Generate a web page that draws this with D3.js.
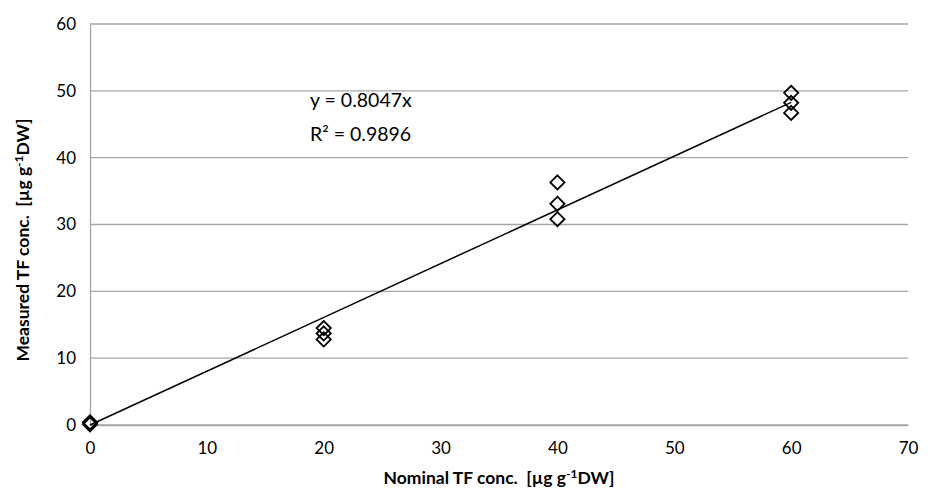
<!DOCTYPE html>
<html>
<head>
<meta charset="utf-8">
<script src="https://cdn.jsdelivr.net/npm/d3@7"></script>
<style>
  body { margin: 0; background: #fff; }
  svg text { font-family: Lato, "Liberation Sans", sans-serif; fill: #000; white-space: pre; }
</style>
</head>
<body>
<div id="chart"></div>
<script>
// Measured vs nominal TF concentration

const nominal = [0, 0, 0, 20, 20, 20, 40, 40, 40, 60, 60, 60];
const measured = [0.1, 0.3, 0.4, 12.8, 13.7, 14.5, 30.8, 33.1, 36.3, 46.7, 48.2, 49.7];
const slope = 0.8047;
const rSquared = 0.9896;
const xTicks = [0, 10, 20, 30, 40, 50, 60, 70];
const yTicks = [0, 10, 20, 30, 40, 50, 60];

const width = 930;
const height = 495;
const margin = { top: 24, right: 22, bottom: 70, left: 90 };
const innerWidth = width - margin.left - margin.right;
const innerHeight = height - margin.top - margin.bottom;

const svg = d3.select('#chart')
    .append('svg')
    .attr('width', width)
    .attr('height', height);

const g = svg.append('g')
    .attr('transform', `translate(${margin.left},${margin.top})`);

const xScale = d3.scaleLinear().domain([0, 70]).range([0, innerWidth]);
const yScale = d3.scaleLinear().domain([0, 60]).range([innerHeight, 0]);

// Horizontal grid lines
g.append('g')
    .selectAll('line')
    .data(yTicks)
    .join('line')
    .attr('x1', 0)
    .attr('x2', innerWidth)
    .attr('y1', d => yScale(d))
    .attr('y2', d => yScale(d))
    .attr('stroke', '#a6a6a6')
    .attr('stroke-width', 1.3);

// Axes
const xAxis = g.append('g')
    .attr('transform', `translate(0,${innerHeight})`)
    .call(d3.axisBottom(xScale).tickValues(xTicks).tickSize(0).tickPadding(17));

const yAxis = g.append('g')
    .call(d3.axisLeft(yScale).tickValues(yTicks).tickSize(0).tickPadding(14));

[xAxis, yAxis].forEach(ax => {
    ax.select('.domain').attr('stroke', '#a6a6a6').attr('stroke-width', 1.3);
    ax.selectAll('text').style('font-size', '17px');
});

// Trend line
g.append('line')
    .attr('x1', xScale(0))
    .attr('y1', yScale(0))
    .attr('x2', xScale(60))
    .attr('y2', yScale(slope * 60))
    .attr('stroke', '#000')
    .attr('stroke-width', 1.5);

// Diamond markers
const diamond = d3.symbol().type(d3.symbolDiamond2).size(128);
g.append('g')
    .selectAll('path')
    .data(nominal.map((x, i) => ({ x, y: measured[i] })))
    .join('path')
    .attr('d', diamond)
    .attr('transform', d => `translate(${xScale(d.x)},${yScale(d.y)})`)
    .attr('fill', 'none')
    .attr('stroke', '#000')
    .attr('stroke-width', 1.8);

// Equation label
const eq = svg.append('text')
    .attr('x', 310)
    .attr('y', 107)
    .style('font-size', '19.5px');
eq.append('tspan').text(`y = ${slope}x`);
eq.append('tspan').attr('x', 310).attr('dy', 34).text(`R² = ${rSquared}`);

// Axis titles
const xTitle = svg.append('text')
    .attr('x', 499)
    .attr('y', 484)
    .attr('text-anchor', 'middle')
    .style('font-size', '17.5px')
    .style('font-weight', 'bold');
xTitle.append('tspan').text('Nominal TF conc.  [µg g');
xTitle.append('tspan').attr('dy', -6).style('font-size', '12px').text('-1');
xTitle.append('tspan').attr('dy', 6).text('DW]');

const yTitle = svg.append('text')
    .attr('transform', `translate(29,240) rotate(-90)`)
    .attr('text-anchor', 'middle')
    .style('font-size', '17.5px')
    .style('font-weight', 'bold');
yTitle.append('tspan').text('Measured TF conc.  [µg g');
yTitle.append('tspan').attr('dy', -6).style('font-size', '12px').text('-1');
yTitle.append('tspan').attr('dy', 6).text('DW]');
</script>
</body>
</html>
